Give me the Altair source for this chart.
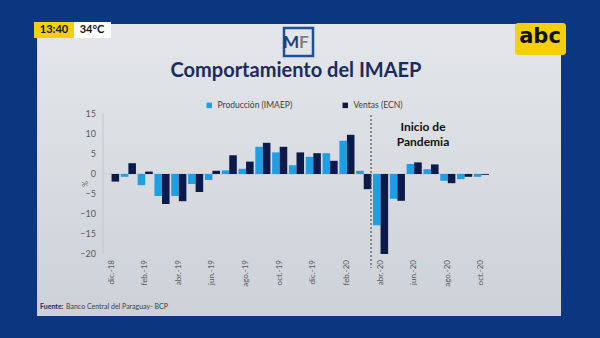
import altair as alt
import pandas as pd

meses = ["dic.-18", "ene.-19", "feb.-19", "mar.-19", "abr.-19", "may.-19", "jun.-19",
         "jul.-19", "ago.-19", "sep.-19", "oct.-19", "nov.-19", "dic.-19", "ene.-20",
         "feb.-20", "mar.-20", "abr.-20", "may.-20", "jun.-20", "jul.-20", "ago.-20",
         "sep.-20", "oct.-20"]
produccion = [0.0, -0.7, -2.8, -5.5, -5.5, -2.5, -1.5, 0.9, 1.3, 6.8, 5.4, 2.2, 4.3, 5.2,
              8.3, 0.8, -12.8, -6.2, 2.5, 1.2, -1.7, -1.3, -0.7]
ventas = [-1.9, 2.7, 0.6, -7.5, -6.8, -4.5, 0.8, 4.7, 3.1, 7.8, 6.8, 5.4, 5.2, 3.3,
          9.8, -3.8, -20.0, -6.7, 2.9, 2.4, -2.3, -0.7, -0.2]
series = ["Producción (IMAEP)", "Ventas (ECN)"]
colores = ["#1e9fe4", "#0c1a4b"]
y_ticks = [-20, -15, -10, -5, 0, 5, 10, 15]
x_ticks = meses[::2]

rows = []
for m, p, v in zip(meses, produccion, ventas):
    rows.append({"mes": m, "serie": series[0], "valor": p})
    rows.append({"mes": m, "serie": series[1], "valor": v})
df = pd.DataFrame(rows)
df_yt = pd.DataFrame({"valor": y_ticks})
df_xt = pd.DataFrame({"mes": x_ticks})

# plot origin in the 600x338 page
OX, OY = 104, 114
W, H = 385, 140


def px(x):
    return x - OX


def py(y):
    return y - OY


one = alt.Data(values=[{}])
xscale = alt.Scale(domain=meses, paddingInner=0.1, paddingOuter=0.0)
yscale = alt.Scale(domain=[-20, 15], nice=False)

slide = alt.Chart(one).mark_rect(
    fill=alt.LinearGradient(
        gradient="linear", x1=0, y1=0, x2=0, y2=1,
        stops=[alt.GradientStop(offset=0, color="#e4e6ea"),
               alt.GradientStop(offset=1, color="#cdd2d8")])
).encode(x=alt.value(px(37)), x2=alt.value(px(561)),
         y=alt.value(py(24)), y2=alt.value(py(316)))

bars = alt.Chart(df).mark_bar().encode(
    x=alt.X("mes:N", sort=meses, scale=xscale, axis=None),
    xOffset=alt.XOffset("serie:N", sort=series),
    y=alt.Y("valor:Q", scale=yscale, axis=None),
    color=alt.Color("serie:N", sort=series,
                    scale=alt.Scale(domain=series, range=colores),
                    legend=alt.Legend(title=None, orient="none", direction="horizontal",
                                      legendX=px(205), legendY=py(101),
                                      symbolType="square", symbolSize=30,
                                      symbolStrokeWidth=0,
                                      labelFontSize=8.5, labelColor="#404040",
                                      labelFont="Lato", columnPadding=48)),
)

# y tick labels and axis line, through the y scale
y_labels = alt.Chart(df_yt).mark_text(
    font="Lato", fontSize=9, color="#595959", align="right", baseline="middle"
).encode(y=alt.Y("valor:Q", scale=yscale, axis=None), x=alt.value(-8),
         text=alt.Text("valor:Q", format="d"))
y_line = alt.Chart(one).mark_rule(color="#c4c7cc", strokeWidth=1).encode(
    x=alt.value(-1), y=alt.Y(datum=15, scale=yscale, axis=None), y2=alt.datum(-20))
y_title = alt.Chart(one).mark_text(
    text="%", font="Lato", fontSize=7, color="#595959", angle=270,
    align="center", baseline="middle").encode(x=alt.value(px(86)), y=alt.value(py(184)))

# x tick labels, through the x scale
x_labels = alt.Chart(df_xt).mark_text(
    font="Lato", fontSize=8, color="#595959", angle=270, align="right", baseline="middle"
).encode(x=alt.X("mes:N", sort=meses, scale=xscale, axis=None), y=alt.value(H + 6),
         text="mes:N")

zero = alt.Chart(one).mark_rule(color="#c4c7cc", strokeWidth=1).encode(
    y=alt.Y(datum=0, scale=yscale, axis=None))

pandemia = alt.Chart(one).mark_rule(color="#555555", strokeDash=[2, 2], strokeWidth=1.2).encode(
    x=alt.value(px(371)), y=alt.value(py(115)), y2=alt.value(py(268)))

pand_txt = alt.Chart(one).mark_text(
    text=["Inicio de", "Pandemia"], font="Lato", fontSize=12, fontWeight="bold",
    color="#111111", lineHeight=15, align="center", baseline="top"
).encode(x=alt.value(px(423)), y=alt.value(py(122)))

title = alt.Chart(one).mark_text(
    text="Comportamiento del IMAEP", font="Lato", fontSize=20, fontWeight="bold",
    color="#1b2b5e", align="center", baseline="middle"
).encode(x=alt.value(px(296)), y=alt.value(py(71)))

mf_box = alt.Chart(one).mark_rect(fill="#ffffff", fillOpacity=0.0, stroke="#1d4f9c",
                                  strokeWidth=2.5).encode(
    x=alt.value(px(284)), x2=alt.value(px(313)), y=alt.value(py(28)), y2=alt.value(py(56)))
mf_m = alt.Chart(one).mark_text(text="M", font="Lato", fontSize=17, fontWeight="bold",
                                color="#1d3f7a", align="right", baseline="middle").encode(
    x=alt.value(px(299)), y=alt.value(py(43)))
mf_f = alt.Chart(one).mark_text(text="F", font="Lato", fontSize=17, fontWeight="bold",
                                color="#7d7f85", align="left", baseline="middle").encode(
    x=alt.value(px(299)), y=alt.value(py(43)))

fuente1 = alt.Chart(one).mark_text(text="Fuente:", font="Lato", fontSize=7, fontWeight="bold",
                                   color="#1b2b5e", align="left", baseline="middle").encode(
    x=alt.value(px(40)), y=alt.value(py(307)))
fuente2 = alt.Chart(one).mark_text(text="Banco Central del Paraguay- BCP", font="Lato",
                                   fontSize=7, color="#404040", align="left",
                                   baseline="middle").encode(
    x=alt.value(px(66)), y=alt.value(py(307)))

# TV overlay: time badge and channel logo
hora_bg = alt.Chart(one).mark_rect(fill="#f4cf0a").encode(
    x=alt.value(px(34)), x2=alt.value(px(74)), y=alt.value(py(22)), y2=alt.value(py(38)))
temp_bg = alt.Chart(one).mark_rect(fill="#ffffff").encode(
    x=alt.value(px(74)), x2=alt.value(px(111)), y=alt.value(py(22)), y2=alt.value(py(38)))
hora = alt.Chart(one).mark_text(text="13:40", font="Lato", fontSize=11, fontWeight="bold",
                                color="#111111", align="center", baseline="middle").encode(
    x=alt.value(px(54)), y=alt.value(py(30)))
temp = alt.Chart(one).mark_text(text="34°C", font="Lato", fontSize=11, fontWeight="bold",
                                color="#111111", align="center", baseline="middle").encode(
    x=alt.value(px(92)), y=alt.value(py(30)))
abc_bg = alt.Chart(one).mark_rect(fill="#f4cf0a", cornerRadius=3).encode(
    x=alt.value(px(515)), x2=alt.value(px(566)), y=alt.value(py(23)), y2=alt.value(py(55)))
abc = alt.Chart(one).mark_text(text="abc", font="DejaVu Sans", fontSize=21, fontWeight="bold",
                               color="#111111", align="center", baseline="middle").encode(
    x=alt.value(px(540)), y=alt.value(py(37)))

chart = alt.layer(
    slide, y_line, zero, bars, y_labels, y_title, x_labels, pandemia, pand_txt, title,
    mf_box, mf_m, mf_f, fuente1, fuente2, hora_bg, temp_bg, hora, temp, abc_bg, abc
).properties(
    width=W, height=H, autosize="none",
    padding={"left": OX, "top": OY, "right": 600 - OX - W, "bottom": 338 - OY - H},
).configure(background="#0a3780").configure_view(stroke=None)

chart.save("out.html", embed_options={"renderer": "svg", "actions": False})
